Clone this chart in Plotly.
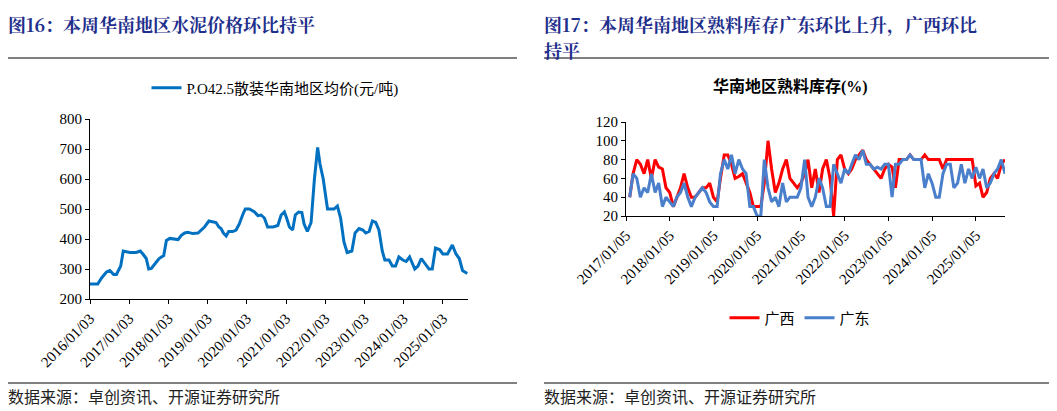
import plotly.graph_objects as go
import pandas as pd

# Left chart: P.O42.5 bulk cement avg price, South China (yuan/t)
price_dates = ["2016-01-03","2016-03-15","2016-04-20","2016-06-05","2016-07-05","2016-08-10","2016-09-05","2016-09-25","2016-10-15","2016-11-08","2016-12-08",
"2017-01-08","2017-03-08","2017-04-15","2017-05-10","2017-06-10","2017-07-03","2017-07-28","2017-09-05","2017-10-08","2017-11-20","2017-12-15",
"2018-01-15","2018-03-01","2018-04-03","2018-05-03","2018-06-03","2018-07-03","2018-08-18","2018-10-05","2018-11-05","2018-12-05",
"2019-01-15","2019-02-20","2019-03-22","2019-04-18","2019-05-08","2019-05-30","2019-06-25","2019-07-18","2019-08-24","2019-09-25","2019-10-25","2019-11-25","2019-12-20",
"2020-01-28","2020-03-15","2020-04-15","2020-05-15","2020-06-15","2020-07-15","2020-09-03","2020-10-18","2020-11-18","2020-12-18",
"2021-01-08","2021-02-03","2021-03-05","2021-03-30","2021-04-30","2021-05-30","2021-06-20","2021-07-20","2021-08-24","2021-09-24","2021-10-24","2021-11-15","2021-12-15",
"2022-01-24","2022-03-26","2022-04-26","2022-05-26","2022-06-26","2022-07-26","2022-09-08","2022-10-08","2022-11-14","2022-12-20",
"2023-01-15","2023-02-16","2023-03-18","2023-04-18","2023-05-18","2023-06-18","2023-07-12","2023-08-20","2023-09-20","2023-10-20","2023-11-20","2023-12-27",
"2024-01-27","2024-02-28","2024-03-22","2024-04-16","2024-05-16","2024-06-16","2024-07-16","2024-08-26","2024-09-26","2024-10-26","2024-12-03",
"2025-01-03","2025-02-15","2025-04-01","2025-05-05","2025-06-05","2025-07-05","2025-08-18"]
price_values = [250,250,270,290,295,282,282,298,310,360,358,
355,355,360,350,335,300,302,320,335,345,395,
402,400,398,412,420,422,418,420,430,440,
460,458,455,440,435,420,410,425,425,430,450,480,500,
500,490,478,480,470,440,440,445,480,490,
470,440,430,480,490,488,450,425,455,600,705,650,600,
500,500,510,470,390,355,360,420,435,430,
420,425,460,455,430,360,330,330,310,310,340,330,
325,340,320,300,310,335,320,300,300,370,365,
350,350,380,350,335,295,285]
price_ticks = ["2016/01/03","2017/01/03","2018/01/03","2019/01/03","2020/01/03","2021/01/03","2022/01/03","2023/01/03","2024/01/03","2025/01/03"]

# Right chart: clinker inventory ratio (%), monthly from 2017-01
inv_start = "2017-01-05"
guangxi = [40,65,80,75,65,80,60,80,72,70,50,45,
30,40,50,65,50,40,40,45,50,50,55,40,
35,60,85,85,75,60,62,65,55,45,30,30,
30,55,100,70,45,55,70,80,60,55,50,55,
65,80,50,70,45,70,80,60,20,80,85,70,
65,70,80,85,90,80,75,70,65,60,70,75,
72,50,80,80,80,85,80,80,80,85,80,80,
80,80,70,80,80,80,80,80,80,80,80,52,
55,40,45,60,65,60,75,80]
guangdong = [40,65,60,40,50,45,65,45,55,30,40,35,
30,40,45,55,40,30,40,45,50,45,35,30,
30,65,80,70,85,65,80,70,65,30,30,20,
20,80,50,35,40,30,55,35,40,40,40,50,
80,40,30,40,60,50,30,30,75,65,55,70,
65,75,85,80,90,75,75,70,72,70,75,75,
40,75,75,80,80,85,80,80,80,50,65,55,
40,40,65,75,75,50,55,75,55,70,60,72,
60,70,50,55,65,70,80,65]
inv_ticks = ["2017/01/05","2018/01/05","2019/01/05","2020/01/05","2021/01/05","2022/01/05","2023/01/05","2024/01/05","2025/01/05"]

inv_dates = pd.date_range(inv_start, periods=len(guangxi), freq="MS") + pd.Timedelta(days=4)

W, H, OFF = 1057, 411, 8
def px(x): return (x - OFF) / W
def py(y): return 1 - (y - OFF) / H

serif = "Liberation Serif, Noto Sans CJK SC"
fig = go.Figure()
fig.add_trace(go.Scatter(x=pd.to_datetime(price_dates), y=price_values, mode="lines",
    name="P.O42.5散装华南地区均价(元/吨)", line=dict(color="#0070C0", width=3), legend="legend"))
fig.add_trace(go.Scatter(x=inv_dates, y=guangxi, mode="lines", name="广西",
    line=dict(color="#FF0000", width=3), xaxis="x2", yaxis="y2", legend="legend2"))
fig.add_trace(go.Scatter(x=inv_dates, y=guangdong, mode="lines", name="广东",
    line=dict(color="#4A7FCB", width=3), xaxis="x2", yaxis="y2", legend="legend2"))

axcommon = dict(showgrid=False, showline=True, linecolor="#000", linewidth=1, ticks="outside", automargin=False,
                ticklen=4, tickcolor="#000", tickfont=dict(family=serif, size=15, color="#000"), zeroline=False)
fig.update_layout(
    width=W, height=H, margin=dict(l=0, r=0, t=0, b=0, autoexpand=False),
    paper_bgcolor="white", plot_bgcolor="white", font=dict(family=serif),
    xaxis=dict(domain=[px(90), px(468)], anchor="y", type="date",
               range=["2016-01-03", "2025-08-25"],
               tickvals=pd.to_datetime(price_ticks), ticktext=price_ticks, tickangle=-45, **axcommon),
    yaxis=dict(domain=[py(299), py(119)], anchor="x", range=[200, 800], dtick=100, **axcommon),
    xaxis2=dict(domain=[px(626), px(1005)], anchor="y2", type="date",
                range=["2017-01-05", "2025-09-05"],
                tickvals=pd.to_datetime(inv_ticks), ticktext=inv_ticks, tickangle=-45, **axcommon),
    yaxis2=dict(domain=[py(216), py(122)], anchor="x2", range=[20, 120], dtick=20, **axcommon),
    legend=dict(x=px(275), y=py(88), xanchor="center", yanchor="middle", orientation="h",
                font=dict(family=serif, size=15, color="#000"), bgcolor="rgba(0,0,0,0)"),
    legend2=dict(x=px(800), y=py(318), xanchor="center", yanchor="middle", orientation="h",
                 font=dict(family=serif, size=15, color="#000"), bgcolor="rgba(0,0,0,0)"),
    showlegend=True,
)
title_font = dict(family="Noto Serif CJK SC, Noto Sans CJK SC", size=18, color="#1F2F8C")
fig.add_annotation(text="<b>图16：本周华南地区水泥价格环比持平</b>", x=px(6), y=py(9), xref="paper", yref="paper",
                   xanchor="left", yanchor="top", showarrow=False, font=title_font)
fig.add_annotation(text="<b>图17：本周华南地区熟料库存广东环比上升，广西环比</b>", x=px(542), y=py(9), xref="paper", yref="paper",
                   xanchor="left", yanchor="top", showarrow=False, font=title_font)
fig.add_annotation(text="<b>持平</b>", x=px(542), y=py(35), xref="paper", yref="paper",
                   xanchor="left", yanchor="top", showarrow=False, font=title_font)
fig.add_annotation(text="<b>华南地区熟料库存(%)</b>", x=px(790), y=py(86), xref="paper", yref="paper",
                   xanchor="center", yanchor="middle", showarrow=False, font=dict(family=serif, size=16, color="#000"))
src_font = dict(family="Noto Sans CJK SC", size=16, color="#222")
for x0 in (6, 542):
    fig.add_annotation(text="数据来源：卓创资讯、开源证券研究所", x=px(x0), y=py(396), xref="paper", yref="paper",
                       xanchor="left", yanchor="middle", showarrow=False, font=src_font)
for (a, b) in ((5, 517), (544, 1055)):
    for yy in (58, 383):
        fig.add_shape(type="line", xref="paper", yref="paper", x0=px(a), x1=px(b),
                      y0=py(yy), y1=py(yy), line=dict(color="#808080", width=2))

fig.write_html("out.html")
